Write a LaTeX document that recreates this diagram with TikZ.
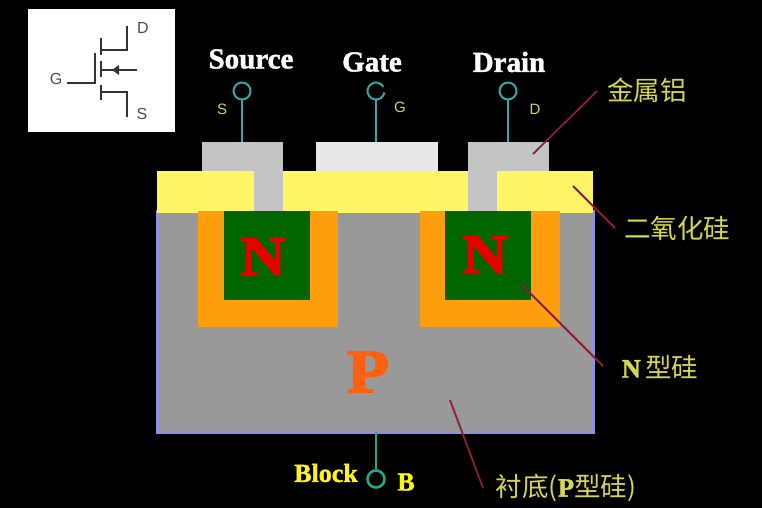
\documentclass[tikz,border=0pt]{standalone}
\usepackage{fontspec}
\setmainfont{Liberation Serif}
\setsansfont{Liberation Sans}
\newfontfamily\cjk{Noto Sans CJK SC}
\newfontfamily\heavy[FakeBold=1.5]{Liberation Serif Bold}
\newfontfamily\heavywide[FakeBold=3,FakeStretch=1.12]{Liberation Serif Bold}
\definecolor{bggray}{HTML}{999999}
\definecolor{edgeblue}{HTML}{9090E0}
\definecolor{oxideyellow}{HTML}{FFF566}
\definecolor{metalgray}{HTML}{C4C4C4}
\definecolor{gatewhite}{HTML}{E8E8E8}
\definecolor{dopeorange}{HTML}{FF9E0D}
\definecolor{dopegreen}{HTML}{006600}
\definecolor{pincyan}{HTML}{35A8A8}
\definecolor{pingreen}{HTML}{22A888}
\definecolor{labelyellow}{HTML}{D6D650}
\definecolor{leaderred}{HTML}{8A1F35}
\definecolor{lettered}{HTML}{E60000}
\definecolor{letterorange}{HTML}{FF6010}
\begin{document}
\begin{tikzpicture}[
        x=1pt, y=-1pt,
        box/.style={rectangle,anchor=north west,inner sep=0pt,outer sep=0pt},
        metal/.style={box,fill=metalgray},
        oxide/.style={box,fill=oxideyellow},
        doped/.style={box,fill=dopeorange,minimum width=140,minimum height=116},
        channel/.style={box,fill=dopegreen,minimum width=86,minimum height=89},
        pin/.style={circle,draw=pincyan,line width=2pt,minimum size=17,inner sep=0pt},
        stem/.style={draw=pincyan,line width=2pt},
        leader/.style={draw=leaderred,line width=1.8pt},
        pinname/.style={text=labelyellow,font=\sffamily\fontsize{15}{15}\selectfont},
        title/.style={text=white,font=\heavy\fontsize{29}{29}\selectfont},
        blockname/.style={text=yellow!90!white,font=\heavy\fontsize{26}{26}\selectfont},
        bigletter/.style={font=\heavywide\fontsize{62}{62}\selectfont},
        note/.style={text=labelyellow,font=\cjk\fontsize{26.5}{26.5}\selectfont},
        symb/.style={draw=black!80,line width=1.7pt},
        symbname/.style={text=black!70,font=\sffamily\fontsize{16}{16}\selectfont}
        ]
        \useasboundingbox [fill=black] (0,0) rectangle (762,508);
        \node (inset) [box,fill=white,minimum width=147,minimum height=123] at (28,9) {};
        \node (symD) [symbname] at (143,28) {D};
        \node (symG) [symbname] at (56,79) {G};
        \node (symS) [symbname] at (142,114) {S};
        \draw [symb] (127,26) -- (127,50) -- (101,50);
        \draw [symb] (127,117) -- (127,92) -- (101,92);
        \draw [symb] (67,83) -- (95,83) -- (95,53);
        \draw [symb,line width=2.8pt] (101,38) -- (101,55);
        \draw [symb,line width=2.8pt] (101,61) -- (101,77);
        \draw [symb,line width=2.8pt] (101,85) -- (101,100);
        \draw [symb] (137,70) -- (101,70);
        \fill [black!80] (112,70) -- (119,65) -- (119,75) -- cycle;

        \node (bulk) [box,fill=bggray,draw=edgeblue,line width=3pt,minimum width=436,minimum height=221] at (157,211) {};
        \node (ox) [oxide,minimum width=436,minimum height=41.5] at (157,171) {};
        \node (wellS) [doped] at (198,211) {};
        \node (wellD) [doped] at (420,211) {};
        \node (srcN) [channel] at (224,211) {};
        \node (drnN) [channel] at (445,211) {};
        \node (metalS) [metal,minimum width=81,minimum height=29] at (202,142) {};
        \node (viaS) [metal,minimum width=29,minimum height=40] at (254,171) {};
        \node (metalG) [box,fill=gatewhite,minimum width=122,minimum height=29] at (316,142) {};
        \node (metalD) [metal,minimum width=81,minimum height=29] at (468,142) {};
        \node (viaD) [metal,minimum width=29,minimum height=40] at (468,171) {};

        \node (srcNname) [bigletter,font=\heavywide\fontsize{56}{56}\selectfont,text=lettered] at (263,257) {N};
        \node (drnNname) [bigletter,font=\heavywide\fontsize{56}{56}\selectfont,text=lettered] at (485,255) {N};
        \node (bulkname) [bigletter,text=letterorange] at (368,372) {P};

        \node (pinS) [pin] at (242,91) {};
        \node (pinG) [pin,draw=none] at (376,91) {};
        \node (pinD) [pin] at (508,91) {};
        \node (pinB) [pin,draw=pingreen,line width=2.6pt] at (376,479) {};
        \draw [stem] (pinG.center) ++(10:8.5) arc (10:330:8.5);
        \draw [stem] (pinS) -- (pinS |- metalS.north);
        \draw [stem] (pinG) -- (pinG |- metalG.north);
        \draw [stem] (pinD) -- (pinD |- metalD.north);
        \draw [stem,draw=pingreen] (pinB) -- (pinB |- bulk.south);

        \node (titleS) [title] at (251,59) {Source};
        \node (titleG) [title] at (372,62) {Gate};
        \node (titleD) [title] at (509,62) {Drain};
        \node (titleB) [blockname] at (326,473) {Block};
        \node (nameB) [blockname] at (406,482) {B};
        \node (nameS) [pinname] at (222,109) {S};
        \node (nameG) [pinname] at (400,107) {G};
        \node (nameD) [pinname] at (535,109) {D};

        \node (alum) [note] at (647,90) {金属铝};
        \node (sio) [note] at (677,228) {二氧化硅};
        \node (nsi) [note] at (660,367) {{\heavy N}\,型硅};
        \node (sub) [note] at (566,488) {衬底({\heavy P}型硅)};

        \coordinate (alumEnd) at (533,154);
        \coordinate (sioEnd) at (573,186);
        \coordinate (nsiEnd) at (522,285);
        \coordinate (subEnd) at (450,400);
        \draw [leader] (597,91) -- (alumEnd);
        \draw [leader] (615,228) -- (sioEnd);
        \draw [leader] (603,366) -- (nsiEnd);
        \draw [leader] (483,488) -- (subEnd);
\end{tikzpicture}
\end{document}
